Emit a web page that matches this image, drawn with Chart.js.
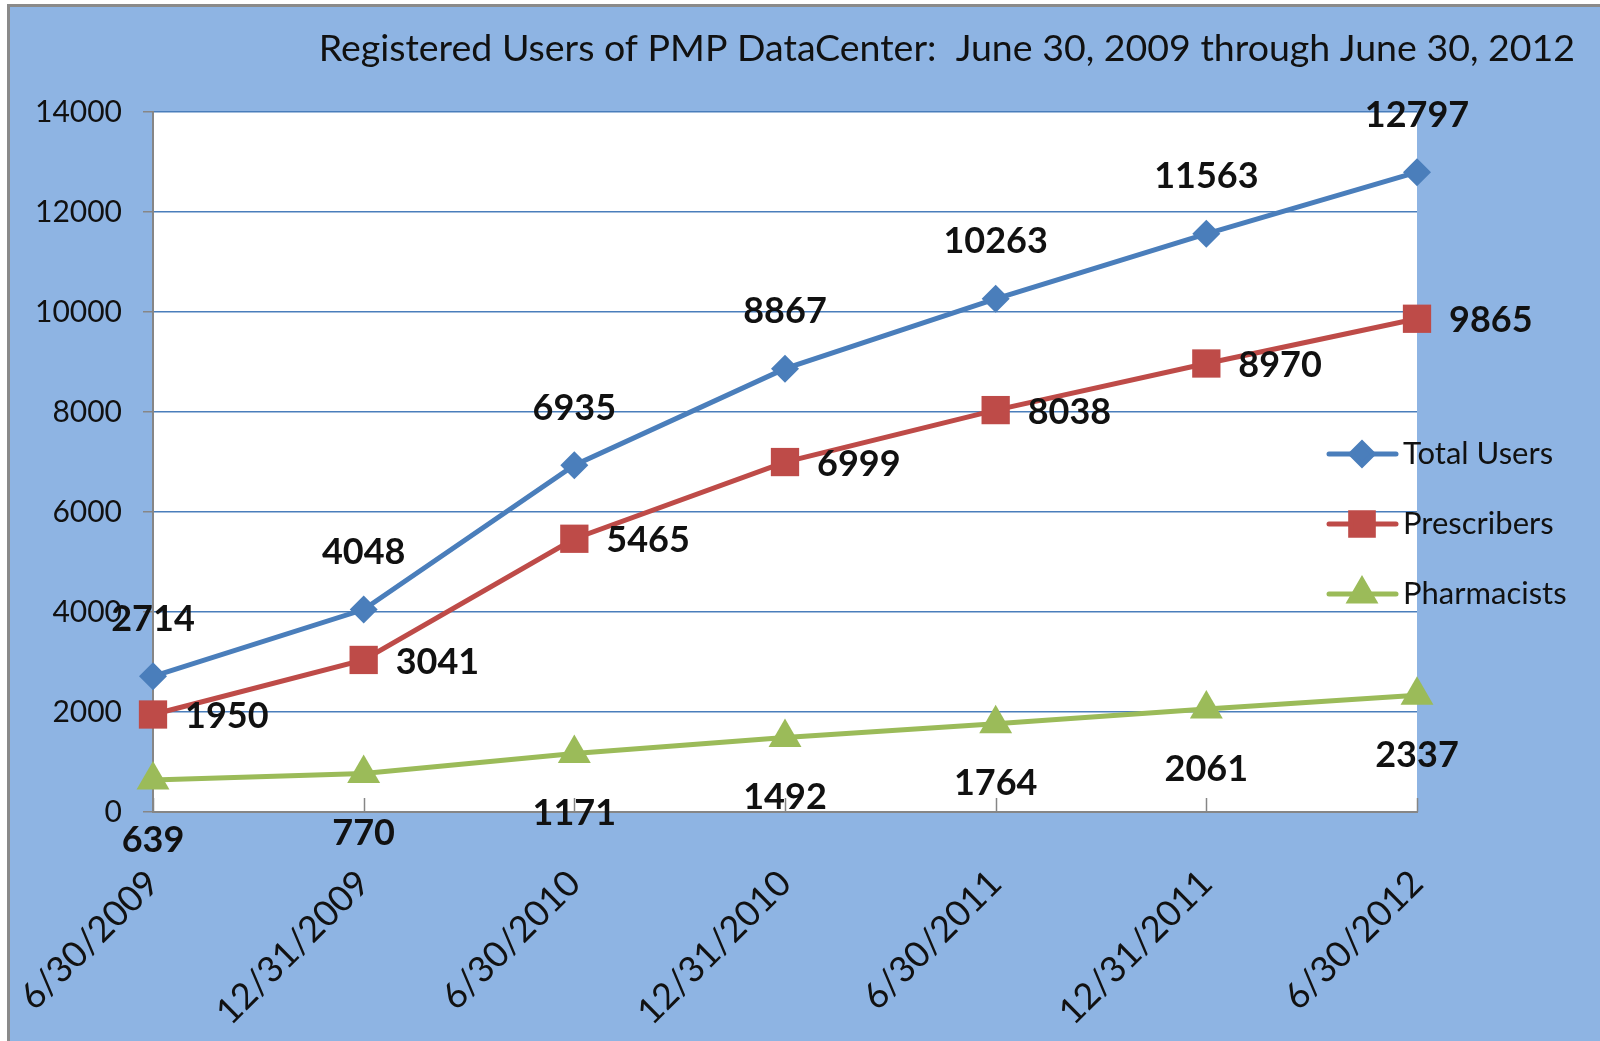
<!DOCTYPE html>
<html><head><meta charset="utf-8">
<script src="https://cdn.jsdelivr.net/npm/chart.js@4.4.0/dist/chart.umd.min.js"></script>
<style>html,body{margin:0;padding:0;background:#fff;overflow:hidden}#wrap{width:1600px;height:1041px;position:relative}</style>
</head><body><div id="wrap"><canvas id="c" width="1600" height="1041"></canvas></div>
<script>
const categories = ['6/30/2009','12/31/2009','6/30/2010','12/31/2010','6/30/2011','12/31/2011','6/30/2012'];
const totalUsers = [2714,4048,6935,8867,10263,11563,12797];
const prescribers = [1950,3041,5465,6999,8038,8970,9865];
const pharmacists = [639,770,1171,1492,1764,2061,2337];
const seriesNames = ['Total Users','Prescribers','Pharmacists'];
const yMin = 0, yMax = 14000, yStep = 2000;
const titleText = 'Registered Users of PMP DataCenter:  June 30, 2009 through June 30, 2012';

const FONT = 'Lato, "Open Sans", sans-serif';
const BG = '#8EB4E3';

const bgPlugin = {
  id: 'bg',
  beforeDraw(chart) {
    const ctx = chart.ctx, a = chart.chartArea;
    ctx.save();
    ctx.fillStyle = '#ffffff';
    ctx.fillRect(0, 0, chart.width, chart.height);
    ctx.fillStyle = BG;
    ctx.fillRect(7, 5, chart.width - 7, chart.height - 5);
    ctx.strokeStyle = '#8a8a8a';
    ctx.lineWidth = 3;
    ctx.beginPath();
    ctx.moveTo(8.5, chart.height); ctx.lineTo(8.5, 5.5); ctx.lineTo(chart.width, 5.5);
    ctx.stroke();
    ctx.fillStyle = '#ffffff';
    ctx.fillRect(a.left, a.top, a.right - a.left, a.bottom - a.top);
    ctx.restore();
  },
  afterDraw(chart) {
    const ctx = chart.ctx, a = chart.chartArea, xs = chart.scales.x;
    ctx.save();
    // title
    ctx.fillStyle = '#111';
    ctx.font = '37.5px ' + FONT;
    ctx.textBaseline = 'middle';
    ctx.textAlign = 'right';
    ctx.fillText(titleText, 1575, 49);
    // inner x tick marks
    ctx.strokeStyle = '#868686';
    ctx.lineWidth = 1.5;
    xs.ticks.forEach((t, i) => {
      const x = Math.round(xs.getPixelForTick(i)) + 0.5;
      ctx.beginPath(); ctx.moveTo(x, a.bottom - 14); ctx.lineTo(x, a.bottom); ctx.stroke();
    });
    // legend
    const rows = [454, 524, 594];
    chart.data.datasets.forEach((ds, i) => {
      const y = rows[i];
      ctx.strokeStyle = ds.borderColor;
      ctx.lineWidth = 5;
      ctx.lineCap = 'round';
      ctx.beginPath(); ctx.moveTo(1329, y); ctx.lineTo(1396, y); ctx.stroke();
      ctx.fillStyle = ds.borderColor;
      Chart.helpers.drawPoint(ctx, {pointStyle: ds.pointStyle, radius: ds.legendRadius, borderWidth: 1}, 1362, y);
      ctx.fillStyle = '#111';
      ctx.font = '31px ' + FONT;
      ctx.textAlign = 'left';
      ctx.textBaseline = 'middle';
      ctx.fillText(ds.label, 1403, y);
    });
    ctx.restore();
  }
};

const labelPlugin = {
  id: 'vlabels',
  afterDatasetsDraw(chart) {
    const ctx = chart.ctx;
    ctx.save();
    ctx.fillStyle = '#111';
    ctx.font = 'bold 36px ' + FONT;
    chart.data.datasets.forEach((ds, di) => {
      const meta = chart.getDatasetMeta(di);
      meta.data.forEach((pt, i) => {
        const v = ds.data[i];
        ctx.textBaseline = 'middle';
        if (ds.labelPos === 'above') {
          ctx.textAlign = 'center';
          ctx.fillText(String(v), pt.x, pt.y - 57);
        } else if (ds.labelPos === 'right') {
          ctx.textAlign = 'left';
          ctx.fillText(String(v), pt.x + 32, pt.y + 2);
        } else {
          ctx.textAlign = 'center';
          ctx.fillText(String(v), pt.x, pt.y + 60);
        }
      });
    });
    ctx.restore();
  }
};

new Chart(document.getElementById('c'), {
  type: 'line',
  data: {
    labels: categories,
    datasets: [
      {label: seriesNames[0], data: totalUsers, borderColor: '#4A7EBB', backgroundColor: '#4A7EBB',
       borderWidth: 5, pointStyle: 'rectRot', pointRadius: 14, pointBorderWidth: 0, legendRadius: 11, labelPos: 'above', clip: false},
      {label: seriesNames[1], data: prescribers, borderColor: '#BE4B48', backgroundColor: '#BE4B48',
       borderWidth: 5, pointStyle: 'rect', pointRadius: 20, pointBorderWidth: 0, legendRadius: 16, labelPos: 'right', clip: false},
      {label: seriesNames[2], data: pharmacists, borderColor: '#9BBB59', backgroundColor: '#9BBB59',
       borderWidth: 5, pointStyle: 'triangle', pointRadius: 19, pointBorderWidth: 0, legendRadius: 14, labelPos: 'below', clip: false}
    ]
  },
  options: {
    responsive: false,
    animation: false,
    devicePixelRatio: 1,
    layout: {padding: {top: 112, right: 183, left: 0, bottom: 0}},
    plugins: {legend: {display: false}, title: {display: false}, tooltip: {enabled: false}},
    elements: {line: {tension: 0}},
    scales: {
      x: {
        type: 'category',
        offset: false,
        afterFit(s) { s.height = 229; s.paddingLeft = 0; s.paddingRight = 0; },
        grid: {display: true, drawOnChartArea: false, drawTicks: false},
        border: {color: '#868686', width: 2},
        ticks: {minRotation: 45, maxRotation: 45, padding: 50, color: '#111', font: {family: FONT, size: 36}}
      },
      y: {
        min: yMin, max: yMax,
        afterFit(s) { s.width = 153; },
        ticks: {stepSize: yStep, padding: 21, color: '#111', font: {family: FONT, size: 30},
                callback: (v) => String(v)},
        grid: {color: '#4A7EBB', lineWidth: 1.5, tickColor: '#868686', tickLength: 10},
        border: {color: '#868686', width: 2}
      }
    }
  },
  plugins: [bgPlugin, labelPlugin]
});
</script></body></html>
